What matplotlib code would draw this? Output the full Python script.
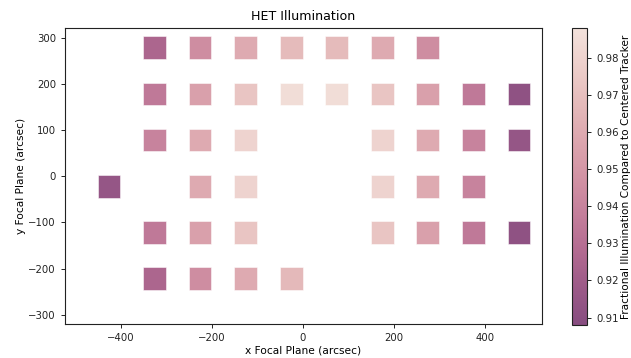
import numpy as np
import matplotlib
matplotlib.use("Agg")
import matplotlib.pyplot as plt
from matplotlib.colors import LinearSegmentedColormap

# Fiber bundle positions on the focal plane (arcsec) and relative illumination
x_pos = [-326, -226, -126, -26, 74, 174, 274,
         -326, -226, -126, -26, 74, 174, 274, 374, 474,
         -326, -226, -126, 174, 274, 374, 474,
         -426, -226, -126, 174, 274, 374,
         -326, -226, -126, 174, 274, 374, 474,
         -326, -226, -126, -26]
y_pos = [278] * 7 + [178] * 9 + [78] * 7 + [-22] * 6 + [-122] * 7 + [-222] * 4
illum = [0.925, 0.945, 0.960, 0.968, 0.968, 0.960, 0.945,
         0.935, 0.955, 0.973, 0.985, 0.985, 0.973, 0.955, 0.935, 0.912,
         0.940, 0.960, 0.980, 0.980, 0.960, 0.940, 0.915,
         0.915, 0.960, 0.980, 0.980, 0.960, 0.940,
         0.935, 0.955, 0.973, 0.973, 0.955, 0.935, 0.912,
         0.925, 0.945, 0.960, 0.967]

vmin, vmax = 0.908, 0.988
cbar_ticks = [0.91, 0.92, 0.93, 0.94, 0.95, 0.96, 0.97, 0.98]

cmap = LinearSegmentedColormap.from_list(
    "het_pink",
    ["#874d80", "#9c5a88", "#b36b91", "#c47f9b", "#d293a4",
     "#dca6ae", "#e5bbbb", "#edcfcb", "#f3e2dc"])

fig = plt.figure(figsize=(6.31, 3.58), dpi=100)
ax = fig.add_axes([0.103, 0.095, 0.756, 0.827])
cax = fig.add_axes([0.9065, 0.092, 0.0238, 0.830])

sc = ax.scatter(x_pos, y_pos, c=illum, cmap=cmap, vmin=vmin, vmax=vmax,
                marker="s", s=265, edgecolors=(1, 1, 1, 0.6), linewidths=0.6)

ax.set_xlim(-523, 525)
ax.set_ylim(-320, 321)
ax.set_xticks([-400, -200, 0, 200, 400])
ax.set_yticks([-300, -200, -100, 0, 100, 200, 300])
ax.tick_params(labelsize=7.3, length=3, width=0.7, colors="#222222")
for sp in ax.spines.values():
    sp.set_linewidth(0.8)
    sp.set_color("#222222")
ax.set_title("HET Illumination", fontsize=9.1)
ax.set_xlabel("x Focal Plane (arcsec)", fontsize=7.7, labelpad=2)
ax.set_ylabel("y Focal Plane (arcsec)", fontsize=7.7, labelpad=2)

cb = fig.colorbar(sc, cax=cax, ticks=cbar_ticks)
cb.ax.tick_params(labelsize=7.3, length=3, width=0.7, colors="#222222")
cb.outline.set_linewidth(0.8)
cb.outline.set_edgecolor("#222222")
cb.set_label("Fractional Illumination Compared to Centered Tracker",
             fontsize=7.6, labelpad=2)

fig.savefig("out.png", dpi=100)
